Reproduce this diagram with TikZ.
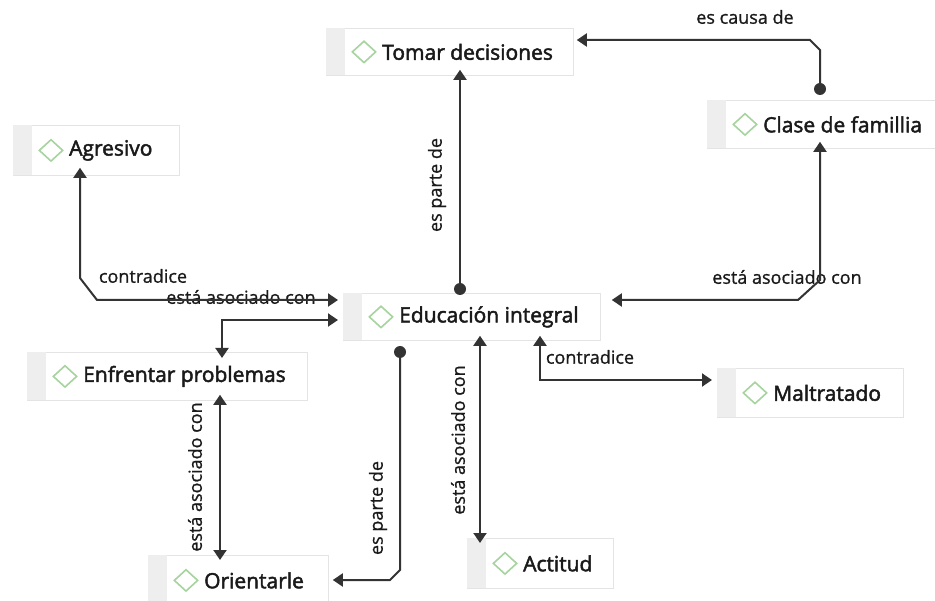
\documentclass[tikz,border=0pt]{standalone}
\usepackage{fontspec}
\setmainfont{Open Sans}
\usetikzlibrary{arrows.meta,shapes.geometric}
\definecolor{lc}{HTML}{333333}
\definecolor{tc}{HTML}{1A1A1A}
\definecolor{bc}{HTML}{E4E4E4}
\definecolor{sc}{HTML}{EEEEEE}
\definecolor{dc}{HTML}{A6D39E}
\tikzset{
  cbox/.style={draw=bc, line width=0.8pt, fill=white, inner sep=0pt, rectangle},
  dia/.style={draw=dc, line width=1.6pt, diamond, inner sep=0pt, minimum width=24pt, minimum height=22pt},
  ctext/.style={font=\fontsize{21}{24}\selectfont\addfontfeature{FakeBold=2.2}, text=tc, inner sep=0pt},
  lnk/.style={draw=lc, line width=2pt},
  tip/.style={-{Triangle[width=13pt,length=10pt]}},
  tips/.style={{Triangle[width=13pt,length=10pt]}-{Triangle[width=13pt,length=10pt]}},
  lbl/.style={font=\fontsize{18}{20}\selectfont\addfontfeature{FakeBold=1}, text=tc, inner sep=0pt},
}
\newcommand\conc[6]{%
  \node[cbox, anchor=north west, minimum width=#4pt, minimum height=#5pt] (#1) at (#2,#3) {};
  \fill[sc] ([shift={(0.4pt,-0.4pt)}]#1.north west) rectangle ([shift={(19pt,0.4pt)}]#1.south west);
  \node[dia] (#1d) at ([xshift=38pt]#1.west) {};
  \node[ctext, anchor=west] (#1t) at ([xshift=56pt]#1.west) {#6};
}
\begin{document}
\begin{tikzpicture}[x=1pt,y=-1pt]
\useasboundingbox (0,0) rectangle (935,601);
\conc{tomar}{326}{28}{247}{47}{Tomar decisiones}
\conc{clase}{707}{100}{236}{48}{Clase de famillia}
\conc{agre}{13}{125}{166}{50}{Agresivo}
\conc{edu}{343}{293}{257}{47}{Educación integral}
\conc{enf}{27}{352}{280}{48}{Enfrentar problemas}
\conc{mal}{717}{368}{186}{49}{Maltratado}
\conc{ori}{148}{555}{180}{50}{Orientarle}
\conc{act}{467}{538}{146}{50}{Actitud}

% labels
\node[lbl] (l1) at (745,17) {es causa de};
\node[lbl, rotate=90] (l2) at (437,185) {es parte de};
\node[lbl] (l3) at (787,277) {está asociado con};
\node[lbl] (l4) at (143,276) {contradice};
\node[lbl] (l5) at (241,297) {está asociado con};
\node[lbl, rotate=90] (l6) at (195,477) {está asociado con};
\node[lbl, rotate=90] (l7) at (378,508) {es parte de};
\node[lbl, rotate=90] (l8) at (458,440) {está asociado con};
\node[lbl] (l9) at (590,357) {contradice};

% coordinates
\coordinate (c1) at (820,89);
\coordinate (c2) at (460,289);
\coordinate (c7) at (400,352);

% clase -> tomar
\fill[lc] (c1) circle (6);
\draw[lnk,tip] (c1) -- (820,50) -- (810,40) -- ([xshift=3pt]tomar.east |- 0,40);
% edu -> tomar
\fill[lc] (c2) circle (6);
\draw[lnk,tip] (c2) -- ([yshift=6pt]tomar.south -| c2);
% edu <-> clase
\draw[lnk,tips] ([xshift=11pt]edu.east |- 0,300) -- (798,300) -- (820,280) -- ([yshift=7pt]clase.south -| 820,0);
% agresivo <-> edu
\draw[lnk,tips] ([yshift=8pt]agre.south -| 80,0) -- (80,278) -- (97,300) -- ([xshift=-5pt]edu.west |- 0,300);
% enf <-> edu
\draw[lnk,tips] ([yshift=-6pt]enf.north -| 222,0) -- (222,320) -- ([xshift=-5pt]edu.west |- 0,320);
% enf <-> ori
\draw[lnk,tips] ([yshift=6pt]enf.south -| 220,0) -- ([yshift=-5pt]ori.north -| 220,0);
% edu -> ori
\fill[lc] (c7) circle (6);
\draw[lnk,tip] (c7) -- (400,570) -- (390,580) -- ([xshift=4pt]ori.east |- 0,580);
% edu <-> actitud
\draw[lnk,tips] ([yshift=5pt]edu.south -| 480,0) -- ([yshift=-5pt]act.north -| 480,0);
% edu <-> maltratado
\draw[lnk,tips] ([yshift=5pt]edu.south -| 540,0) -- (540,380) -- ([xshift=-5pt]mal.west |- 0,380);
\end{tikzpicture}
\end{document}
